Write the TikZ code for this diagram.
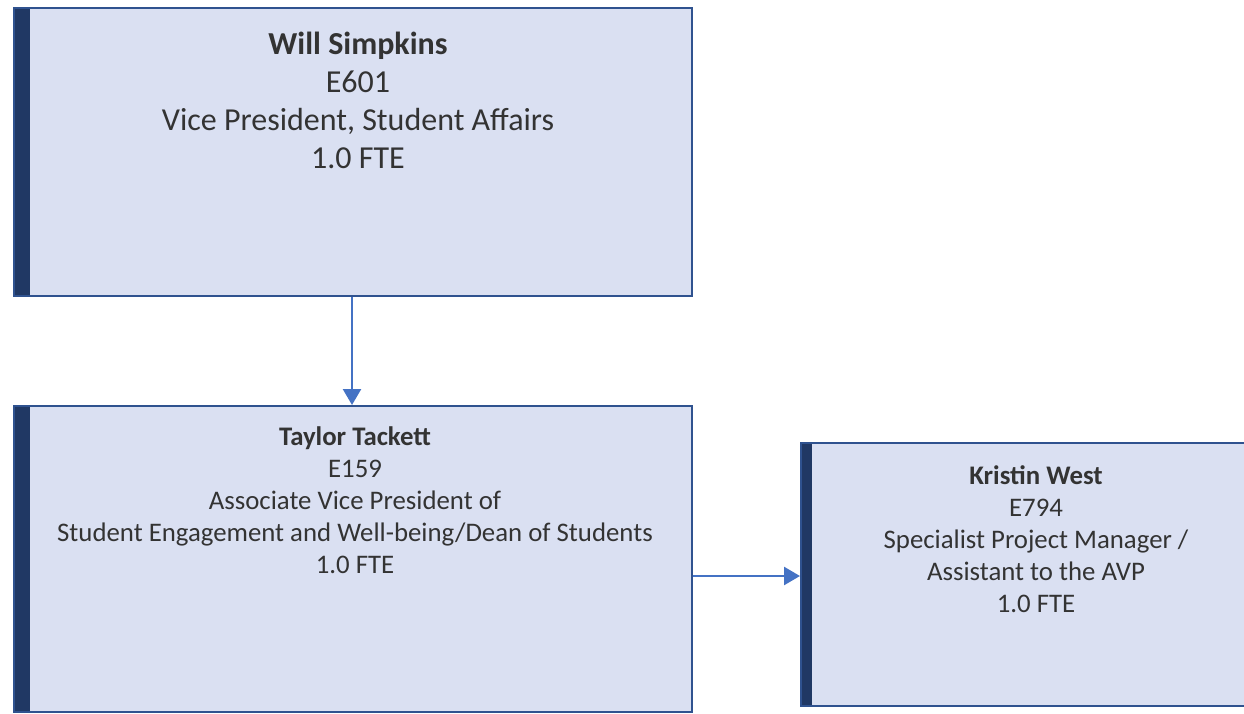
\documentclass[tikz,border=0pt]{standalone}
\usepackage{fontspec}
\setmainfont{Carlito}
\usetikzlibrary{arrows.meta}
\definecolor{boxfill}{HTML}{DAE0F2}
\definecolor{boxline}{HTML}{2F528F}
\definecolor{barcol}{HTML}{203864}
\definecolor{arrcol}{HTML}{4472C4}
\definecolor{txtcol}{HTML}{333333}
\tikzset{
  card/.style={draw=boxline, line width=2pt, fill=boxfill},
  bar/.style={fill=barcol, draw=none},
  conn/.style={draw=arrcol, line width=2.5pt, -{Triangle[length=16pt,width=18pt]}},
  bigtxt/.style={align=center, font=\fontsize{32}{38}\selectfont, text=txtcol},
  smalltxt/.style={align=center, font=\fontsize{26.8}{32}\selectfont, text=txtcol},
}
\begin{document}
\begin{tikzpicture}[x=1pt,y=-1pt]
\useasboundingbox (0,0) rectangle (1244,714);
\begin{scope}
\clip (0,0) rectangle (1244,714);
% box 1
\draw[card] (14,8) rectangle (692,296);
\fill[bar] (15,9) rectangle (30,295);
\node[bigtxt] (t1) at (358,100) {\textbf{Will Simpkins}\\E601\\Vice President, Student Affairs\\1.0 FTE};
\coordinate (b1s) at (352,297);
% box 2
\draw[card] (14,406) rectangle (692,712);
\fill[bar] (15,407) rectangle (30,711);
\node[smalltxt] (t2) at (355,500.5) {\textbf{Taylor Tackett}\\E159\\Associate Vice President of\\Student Engagement and Well-being/Dean of Students\\1.0 FTE};
\coordinate (b2n) at (352,405);
\coordinate (b2e) at (693,576);
% box 3
\draw[card] (801,443) rectangle (1270,706);
\fill[bar] (802,444) rectangle (812,705);
\node[smalltxt] (t3) at (1036,539) {\textbf{Kristin West}\\E794\\Specialist Project Manager /\\Assistant to the AVP\\1.0 FTE};
\coordinate (b3w) at (800,576);
\end{scope}
\draw[conn] (b1s) -- (b2n);
\draw[conn] (b2e) -- (b3w);
\end{tikzpicture}
\end{document}
